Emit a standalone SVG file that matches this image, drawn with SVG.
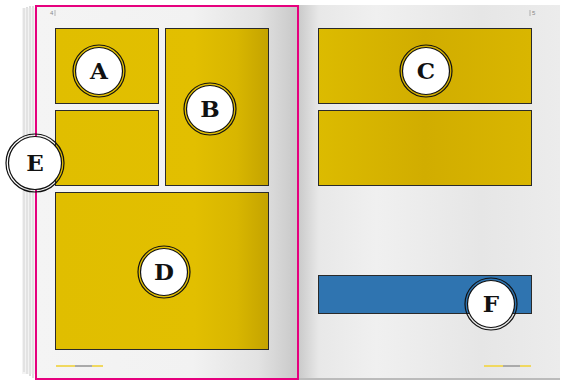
<svg xmlns="http://www.w3.org/2000/svg" width="565" height="382" viewBox="0 0 565 382">
<defs>
<linearGradient id="lp" x1="0" x2="1" y1="0" y2="0">
<stop offset="0" stop-color="#f4f4f4"/><stop offset="0.6" stop-color="#f2f2f2"/><stop offset="0.85" stop-color="#e2e2e2"/><stop offset="1" stop-color="#c8c8c8"/>
</linearGradient>
<linearGradient id="rp" x1="0" x2="1" y1="0" y2="0">
<stop offset="0" stop-color="#c9c9c9"/><stop offset="0.08" stop-color="#e8e8e8"/><stop offset="0.3" stop-color="#f0f0f0"/><stop offset="0.7" stop-color="#e6e6e6"/><stop offset="1" stop-color="#ececec"/>
</linearGradient>
<linearGradient id="ly" gradientUnits="userSpaceOnUse" x1="55" x2="269" y1="0" y2="0">
<stop offset="0" stop-color="#e0be00"/><stop offset="0.65" stop-color="#e2bf00"/><stop offset="0.85" stop-color="#d8b600"/><stop offset="1" stop-color="#c4a300"/>
</linearGradient>
<linearGradient id="ry" gradientUnits="userSpaceOnUse" x1="318" x2="532" y1="0" y2="0">
<stop offset="0" stop-color="#dcbb00"/><stop offset="0.5" stop-color="#d1ad00"/><stop offset="1" stop-color="#d9b600"/>
</linearGradient>
<style>
.panel{stroke:#2a2a2a;stroke-width:1}
.ring{fill:none;stroke:#111;stroke-width:1.2}
.disc{fill:#fff;stroke:#111;stroke-width:1.2}
.lbl{font-family:"DejaVu Serif",serif;font-weight:bold;font-size:23px;fill:#111;text-anchor:middle}
.pg{font-family:"Liberation Sans",sans-serif;font-size:6px;fill:#888}
</style>
</defs>
<rect width="565" height="382" fill="#fff"/>
<g stroke="#bdbdbd" stroke-width="1" fill="none">
<line x1="24" y1="8" x2="24" y2="372"/>
<line x1="27" y1="7" x2="27" y2="374"/>
<line x1="30" y1="6" x2="30" y2="376"/>
<line x1="33" y1="6" x2="33" y2="378"/>
</g>
<rect x="22" y="8" width="14" height="366" fill="#e8e8e8" opacity="0.5"/>
<rect x="36" y="5" width="262" height="374" fill="url(#lp)"/>
<rect x="298" y="5" width="262" height="374" fill="url(#rp)"/>
<line x1="298" y1="379" x2="560" y2="379" stroke="#bbb" stroke-width="2"/>
<rect x="36" y="6" width="262" height="373" fill="none" stroke="#e6007e" stroke-width="2"/>
<text class="pg" x="50" y="15">4</text>
<line x1="55" y1="10" x2="55" y2="16" stroke="#888" stroke-width="0.6"/>
<line x1="530" y1="10" x2="530" y2="16" stroke="#888" stroke-width="0.6"/>
<text class="pg" x="532" y="15">5</text>
<rect x="56" y="365" width="19" height="2" fill="#f0d860"/><rect x="75" y="365" width="17" height="2" fill="#aaa"/><rect x="92" y="365" width="11" height="2" fill="#f0d860"/>
<rect x="484" y="365" width="19" height="2" fill="#f0d860"/><rect x="503" y="365" width="17" height="2" fill="#aaa"/><rect x="520" y="365" width="11" height="2" fill="#f0d860"/>
<g id="panelA"><rect class="panel" x="55.5" y="28.5" width="103" height="75" fill="url(#ly)"/></g>
<g id="panelB"><rect class="panel" x="165.5" y="28.5" width="103" height="157" fill="url(#ly)"/></g>
<g id="panelE"><rect class="panel" x="55.5" y="110.5" width="103" height="75" fill="url(#ly)"/></g>
<g id="panelD"><rect class="panel" x="55.5" y="192.5" width="213" height="157" fill="url(#ly)"/></g>
<g id="panelC"><rect class="panel" x="318.5" y="28.5" width="213" height="75" fill="url(#ry)"/></g>
<g id="panelC2"><rect class="panel" x="318.5" y="110.5" width="213" height="75" fill="url(#ry)"/></g>
<g id="panelF"><rect class="panel" x="318.5" y="275.5" width="213" height="38" fill="#2f74b0"/></g>
<g id="A"><circle class="ring" cx="99" cy="71" r="26"/><circle class="disc" cx="99" cy="71" r="23.5"/><text class="lbl" x="99" y="79">A</text></g>
<g id="B"><circle class="ring" cx="210" cy="109" r="26"/><circle class="disc" cx="210" cy="109" r="23.5"/><text class="lbl" x="210" y="117">B</text></g>
<g id="C"><circle class="ring" cx="426" cy="71" r="26"/><circle class="disc" cx="426" cy="71" r="23.5"/><text class="lbl" x="426" y="79">C</text></g>
<g id="D"><circle class="ring" cx="164" cy="272" r="26"/><circle class="disc" cx="164" cy="272" r="23.5"/><text class="lbl" x="164" y="280">D</text></g>
<g id="E"><circle class="ring" cx="35" cy="163" r="29"/><circle class="disc" cx="35" cy="163" r="26.5"/><text class="lbl" x="35" y="171">E</text></g>
<g id="F"><circle class="ring" cx="491" cy="304" r="26"/><circle class="disc" cx="491" cy="304" r="23.5"/><text class="lbl" x="491" y="312">F</text></g>
<g id="connectors"/>
</svg>
